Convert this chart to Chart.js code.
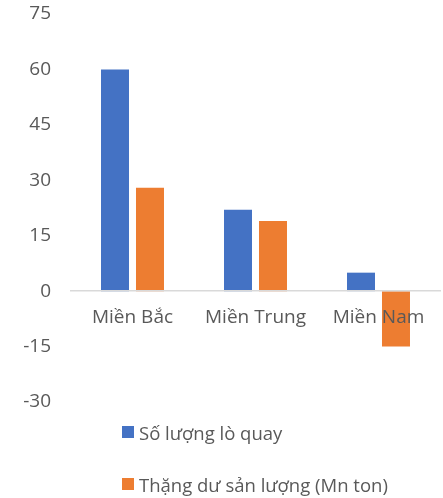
<!DOCTYPE html>
<html>
<head>
<meta charset="utf-8">
<script src="https://cdn.jsdelivr.net/npm/chart.js@4/dist/chart.umd.min.js"></script>
<style>
  html, body { margin: 0; padding: 0; background: #fff; }
  #wrap { position: relative; width: 443px; height: 498px; }
  #legend { position: absolute; left: 122px; top: 420px; font-family: "Open Sans", sans-serif; font-size: 18.5px; color: #595959; }
  .item { display: flex; align-items: center; height: 24px; white-space: nowrap; }
  .item + .item { margin-top: 28px; }
  .sw { width: 12px; height: 12px; margin-right: 5px; flex: none; }
</style>
</head>
<body>
<div id="wrap">
  <canvas id="c" width="443" height="498"></canvas>
  <div id="legend"></div>
</div>
<script>
const categories = ['Miền Bắc', 'Miền Trung', 'Miền Nam'];
const seriesNames = ['Số lượng lò quay', 'Thặng dư sản lượng (Mn ton)'];
const kilnCount = [60, 22, 5];
const outputSurplus = [28, 19, -15];
const yTicks = [-30, -15, 0, 15, 30, 45, 60, 75];
const colors = ['#4472C4', '#ED7D31'];

const textColor = '#595959';
const fontFamily = '"Open Sans", sans-serif';

const chart = new Chart(document.getElementById('c'), {
  type: 'bar',
  data: {
    labels: categories,
    datasets: [
      { label: seriesNames[0], data: kilnCount, backgroundColor: colors[0] },
      { label: seriesNames[1], data: outputSurplus, backgroundColor: colors[1] }
    ]
  },
  options: {
    responsive: false,
    animation: false,
    layout: { padding: { top: 14, bottom: 96, left: 0, right: 3 } },
    datasets: { bar: { categoryPercentage: 0.569, barPercentage: 0.8 } },
    plugins: { legend: { display: false }, tooltip: { enabled: false } },
    scales: {
      x: {
        position: { y: 0 },
        afterFit: s => { s.height = 0; },
        grid: { display: false, drawTicks: false },
        border: { display: true, color: '#D9D9D9', width: 1.5, z: 1 },
        ticks: { z: 1, color: textColor, font: { family: fontFamily, size: 19 }, padding: 15, maxRotation: 0 }
      },
      y: {
        min: yTicks[0],
        max: yTicks[yTicks.length - 1],
        afterBuildTicks: s => { s.ticks = yTicks.map(v => ({ value: v })); },
        afterFit: s => { s.width = 71; },
        grid: { display: false, drawTicks: true, tickLength: 20 },
        border: { display: false },
        ticks: { color: textColor, font: { family: fontFamily, size: 19 }, padding: 0 }
      }
    }
  }
});

const legend = document.getElementById('legend');
chart.data.datasets.forEach(ds => {
  const it = document.createElement('div');
  it.className = 'item';
  const sw = document.createElement('span');
  sw.className = 'sw';
  sw.style.background = ds.backgroundColor;
  const tx = document.createElement('span');
  tx.textContent = ds.label;
  it.appendChild(sw); it.appendChild(tx);
  legend.appendChild(it);
});
</script>
</body>
</html>
